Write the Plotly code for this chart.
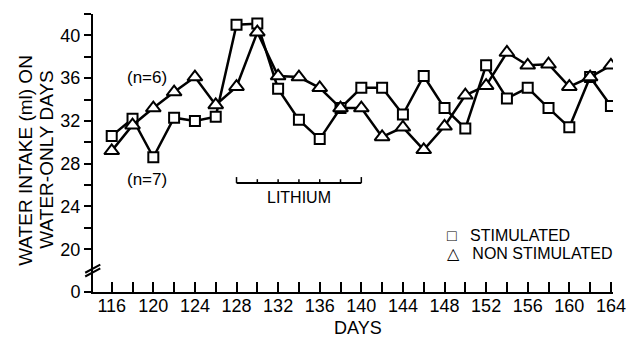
import plotly.graph_objects as go

days = list(range(116, 165, 2))
stimulated = [30.6, 32.2, 28.6, 32.3, 32.0, 32.4, 41.0, 41.1, 35.0, 32.1, 30.3, 33.2, 35.1,
              35.1, 32.6, 36.2, 33.2, 31.3, 37.2, 34.1, 35.1, 33.2, 31.4, 36.1, 33.4]
non_stimulated = [29.2, 31.6, 33.2, 34.7, 36.1, 33.5, 35.2, 40.3, 36.2, 36.1, 35.1, 33.2, 33.2,
                  30.5, 31.4, 29.3, 31.5, 34.4, 35.3, 38.4, 37.2, 37.3, 35.2, 36.1, 37.2]

x_ticks = list(range(116, 165, 2))
x_ticktext = [str(d) if (d - 116) % 4 == 0 else "" for d in x_ticks]
y_ticks = [16] + list(range(20, 43, 2))
y_ticktext = ["0"] + [str(v) if v % 4 == 0 else "" for v in range(20, 43, 2)]

FONT = "Liberation Sans"
SP = "\u00a0\u00a0\u00a0"

fig = go.Figure()
fig.add_trace(go.Scatter(x=days, y=stimulated, mode="lines+markers", name="STIMULATED",
                         line=dict(color="black", width=2.5),
                         marker=dict(symbol="square", size=10, color="white",
                                     line=dict(color="black", width=2))))
fig.add_trace(go.Scatter(x=days, y=non_stimulated, mode="lines+markers", name="NON STIMULATED",
                         line=dict(color="black", width=2.5),
                         marker=dict(symbol="triangle-up", size=13, color="white",
                                     line=dict(color="black", width=2))))

fig.update_layout(
    width=638, height=339,
    margin=dict(l=93, r=21, t=14, b=47),
    paper_bgcolor="white", plot_bgcolor="white",
    showlegend=False,
    font=dict(family=FONT, size=18, color="black"),
    xaxis=dict(range=[114.2, 164.2], tickmode="array", tickvals=x_ticks, ticktext=x_ticktext,
               ticks="inside", ticklen=10, tickwidth=2, tickcolor="black",
               showline=True, linecolor="black", linewidth=2, showgrid=False, zeroline=False,
               tickfont=dict(size=18), ticklabelstandoff=-4),
    yaxis=dict(range=[16, 42], tickmode="array", tickvals=y_ticks, ticktext=y_ticktext,
               ticks="outside", ticklen=7, tickwidth=2, tickcolor="black",
               showline=True, linecolor="black", linewidth=2, showgrid=False, zeroline=False,
               tickfont=dict(size=18)),
)

ann = []
ann.append(dict(x=119.4, y=36.1, text="(n=6)", showarrow=False, font=dict(size=17)))
ann.append(dict(x=119.4, y=26.5, text="(n=7)", showarrow=False, font=dict(size=17)))
ann.append(dict(x=134, y=24.8, text="LITHIUM", showarrow=False, font=dict(size=16)))
ann.append(dict(x=148.0, y=21.3, text="\u25a1" + SP + "STIMULATED", showarrow=False, xanchor="left",
                font=dict(size=16)))
ann.append(dict(x=148.0, y=19.6, text="\u25b3" + SP + "NON STIMULATED", showarrow=False, xanchor="left",
                font=dict(size=16)))
ann.append(dict(x=139.7, y=-0.13, yref="paper", text="DAYS", showarrow=False,
                xanchor="center", yanchor="middle", font=dict(size=18)))
ann.append(dict(x=-0.129, y=0.475, xref="paper", yref="paper", text="WATER INTAKE (ml) ON",
                textangle=-90, showarrow=False, xanchor="center", yanchor="middle",
                font=dict(size=19)))
ann.append(dict(x=-0.089, y=0.475, xref="paper", yref="paper", text="WATER-ONLY DAYS",
                textangle=-90, showarrow=False, xanchor="center", yanchor="middle",
                font=dict(size=19)))
fig.update_layout(annotations=ann)

shapes = []
# lithium bracket
shapes.append(dict(type="line", x0=128, x1=140, y0=26.2, y1=26.2, line=dict(color="black", width=2)))
for d in range(128, 141, 2):
    top = 26.75 if d in (128, 140) else 26.55
    shapes.append(dict(type="line", x0=d, x1=d, y0=26.2, y1=top, line=dict(color="black", width=1.5)))
# axis break marks
for off in (0.0, 0.35):
    shapes.append(dict(type="line", xref="paper", yref="y", x0=-0.015, x1=0.014,
                       y0=17.45 + off, y1=18.2 + off, line=dict(color="black", width=2)))
fig.update_layout(shapes=shapes)

fig.write_html("out.html")
